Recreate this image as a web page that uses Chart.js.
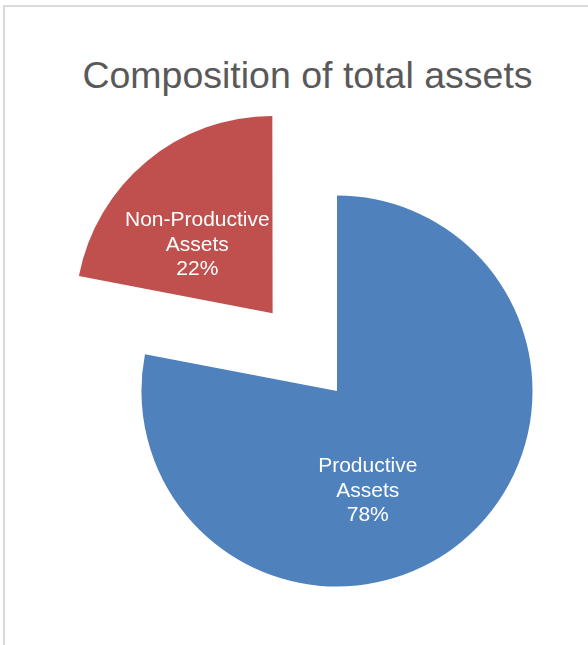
<!DOCTYPE html>
<html lang="en">
<head>
<meta charset="UTF-8" />
<title>Composition of total assets</title>
<script src="https://cdn.jsdelivr.net/npm/chart.js"></script>
<style>
  body { margin: 0; background: white; font-family: "Liberation Sans", Arial, sans-serif; overflow: hidden; }
  #frame { position: absolute; left: 3px; top: 5px; width: 620px; height: 700px; border: 2px solid #d9d9d9; }
  #title { position: absolute; left: 0; top: 53px; width: 615px; text-align: center; font-size: 37.5px; line-height: 44px; color: #595959; margin: 0; font-weight: normal; }
  #chart { position: absolute; left: 0; top: 0; }
</style>
</head>
<body>
<div id="frame"></div>
<h2 id="title">Composition of total assets</h2>
<canvas id="chart" width="588" height="645"></canvas>

<script>
  // data
  const categories = ['Productive Assets', 'Non-Productive Assets'];
  const shares = [78, 22];
  const sliceColors = ['#4F81BD', '#C0504D'];
  const explode = [0, 404];      // Chart.js moves an arc by offset / 4
  const labelDist = [0.52, 0.53]; // label distance as share of the radius
  const labelTurn = [22, -7];     // degrees, nudge from the slice's mid angle

  const total = shares.reduce((a, b) => a + b, 0);

  // draws "Name / Assets / xx%" inside each slice
  const sliceLabels = {
    id: 'sliceLabels',
    afterDatasetsDraw(chart) {
      const ctx = chart.ctx;
      const meta = chart.getDatasetMeta(0);
      ctx.save();
      ctx.fillStyle = '#ffffff';
      ctx.font = '21px "Liberation Sans", Arial, sans-serif';
      ctx.textAlign = 'center';
      ctx.textBaseline = 'middle';
      meta.data.forEach((arc, i) => {
        const p = arc.getProps(['x', 'y', 'startAngle', 'endAngle', 'outerRadius']);
        const half = (p.startAngle + p.endAngle) / 2;
        const shift = (arc.options.offset || 0) / 4;
        const cx = p.x + Math.cos(half) * shift;
        const cy = p.y + Math.sin(half) * shift;
        const a = half + labelTurn[i] * Math.PI / 180;
        const lx = cx + Math.cos(a) * p.outerRadius * labelDist[i];
        const ly = cy + Math.sin(a) * p.outerRadius * labelDist[i] + 3;
        const lines = categories[i].split(' ');
        lines.push(Math.round(shares[i] / total * 100) + '%');
        lines.forEach((t, k) => {
          ctx.fillText(t, lx, ly + (k - (lines.length - 1) / 2) * 24.5);
        });
      });
      ctx.restore();
    }
  };

  new Chart(document.getElementById('chart'), {
    type: 'pie',
    data: {
      labels: categories,
      datasets: [{
        data: shares,
        backgroundColor: sliceColors,
        borderWidth: 0,
        offset: explode,
        radius: 195.5
      }]
    },
    options: {
      responsive: false,
      animation: false,
      layout: { padding: { left: 86, right: 0, top: 137, bottom: 0 } },
      plugins: {
        legend: { display: false },
        tooltip: { enabled: false }
      }
    },
    plugins: [sliceLabels]
  });
</script>
</body>
</html>
